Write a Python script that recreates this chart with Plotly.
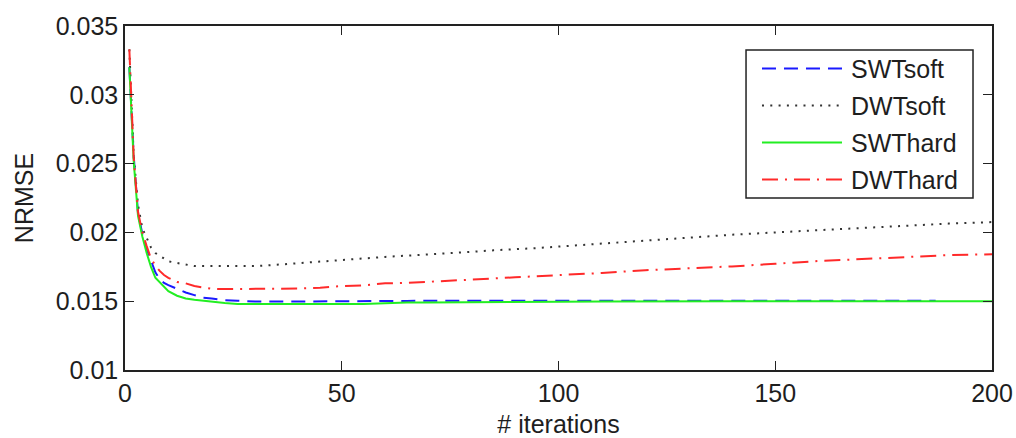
import plotly.graph_objects as go

# Iteration numbers at which the error curves were sampled
iterations = [1, 2, 3, 4, 5, 6, 7, 8, 9, 10, 12, 14, 16, 18, 20, 23, 26, 30, 35, 40,
              45, 50, 55, 60, 65, 70, 75, 80, 85, 90, 95, 100, 110, 120, 130, 140,
              150, 160, 170, 180, 187, 190, 200]

# NRMSE per method (SWTsoft stops at iteration 187)
swt_soft = [0.0320, 0.0256, 0.0214, 0.0199, 0.0188, 0.0179, 0.0171, 0.0166, 0.01633,
            0.01617, 0.01587, 0.01563, 0.01544, 0.01526, 0.0152, 0.01508, 0.01503,
            0.01497, 0.01497, 0.01497, 0.01497, 0.01497, 0.01498, 0.0150, 0.01502,
            0.01503, 0.01503, 0.01503, 0.01503, 0.01503, 0.01503, 0.01503, 0.01503,
            0.01503, 0.01503, 0.01503, 0.01503, 0.01503, 0.01503, 0.01503, 0.01503]
dwt_soft = [0.0333, 0.0256, 0.0220, 0.0203, 0.0196, 0.0189, 0.0185, 0.0183, 0.0181,
            0.0179, 0.01778, 0.01766, 0.01755, 0.01755, 0.01755, 0.01755, 0.01755,
            0.01755, 0.01765, 0.01777, 0.01787, 0.01801, 0.0181, 0.01822, 0.01831,
            0.01839, 0.01849, 0.01859, 0.0187, 0.01877, 0.01886, 0.01897, 0.01919,
            0.0194, 0.01962, 0.01983, 0.0200, 0.02017, 0.02033, 0.02047, 0.0206,
            0.02064, 0.02075]
swt_hard = [0.0320, 0.0252, 0.0212, 0.0197, 0.0185, 0.0175, 0.0167, 0.01637, 0.0160,
            0.01573, 0.0154, 0.0152, 0.0151, 0.01502, 0.01495, 0.01487, 0.0148,
            0.01479, 0.01479, 0.01479, 0.01479, 0.01479, 0.01479, 0.01485, 0.01491,
            0.01491, 0.01491, 0.01492, 0.01493, 0.01494, 0.01495, 0.01496, 0.01498,
            0.0150, 0.0150, 0.0150, 0.0150, 0.0150, 0.0150, 0.0150, 0.0150, 0.0150,
            0.0150]
dwt_hard = [0.0333, 0.0255, 0.0215, 0.0200, 0.0190, 0.0181, 0.0176, 0.0172, 0.0169,
            0.0167, 0.0164, 0.0163, 0.0161, 0.0160, 0.0159, 0.01588, 0.01588,
            0.01588, 0.0159, 0.01592, 0.01598, 0.0161, 0.01615, 0.0163, 0.01633,
            0.0164, 0.01647, 0.01657, 0.01665, 0.01674, 0.01681, 0.0169, 0.01705,
            0.01725, 0.01738, 0.01753, 0.01772, 0.01792, 0.01806, 0.0182, 0.0183,
            0.01835, 0.01841]

series_names = ["SWTsoft", "DWTsoft", "SWThard", "DWThard"]
series_values = [swt_soft, dwt_soft, swt_hard, dwt_hard]

y_tick_values = [0.01, 0.015, 0.02, 0.025, 0.03, 0.035]
y_tick_labels = ["0.01", "0.015", "0.02", "0.025", "0.03", "0.035"]
x_tick_values = [0, 50, 100, 150, 200]
x_tick_labels = ["0", "50", "100", "150", "200"]

# Line styles for each method
styles = {
    "SWTsoft": dict(color="#1a1aff", width=2, dash="14px,8px"),
    "DWTsoft": dict(color="#333333", width=2, dash="2px,6.3px"),
    "SWThard": dict(color="#22ee22", width=2, dash="solid"),
    "DWThard": dict(color="#ff2a2a", width=2, dash="16px,7px,2px,7px"),
}

FONT = "Liberation Sans, Arial, Helvetica, sans-serif"
TEXT = "#1e1e1e"
FS = 25

fig = go.Figure()
for name, vals in zip(series_names, series_values):
    fig.add_trace(go.Scatter(
        x=iterations[:len(vals)], y=vals, mode="lines", name=name,
        line=styles[name], showlegend=False,
    ))

# Boxed legend in the upper right, with long line samples
legend_x0, legend_x1 = 0.7163, 0.9781
legend_y0, legend_y1 = 0.50, 0.9302
fig.add_shape(type="rect", xref="paper", yref="paper",
              x0=legend_x0, x1=legend_x1, y0=legend_y0, y1=legend_y1,
              line=dict(color="#222222", width=1.5), fillcolor="white", layer="above")
row_h = (legend_y1 - legend_y0) / 4
for i, name in enumerate(series_names):
    yy = legend_y1 - row_h * (i + 0.5)
    st = styles[name]
    fig.add_shape(type="line", xref="paper", yref="paper",
                  x0=0.7347, x1=0.8270, y0=yy, y1=yy, layer="above",
                  line=dict(color=st["color"], width=st["width"], dash=st["dash"]))
    fig.add_annotation(xref="paper", yref="paper", x=0.8352, y=yy, text=name,
                       showarrow=False, xanchor="left", yanchor="middle",
                       font=dict(family=FONT, size=FS, color=TEXT))

axis_common = dict(
    showline=True, linecolor="#222222", linewidth=1.5, mirror="ticks",
    ticks="inside", ticklen=9, tickwidth=1.2, tickcolor="#222222",
    showgrid=False, zeroline=False, automargin=False,
    tickfont=dict(family=FONT, size=FS, color=TEXT),
)

fig.update_layout(
    width=1016, height=438,
    margin=dict(l=125, r=24, t=26, b=68),
    paper_bgcolor="white", plot_bgcolor="white",
    font=dict(family=FONT, size=FS, color=TEXT),
    xaxis=dict(range=[0, 200], tickvals=x_tick_values, ticktext=x_tick_labels,
               title=dict(text="# iterations", standoff=17,
                          font=dict(family=FONT, size=FS, color=TEXT)),
               **axis_common),
    yaxis=dict(range=[0.01, 0.035], tickvals=y_tick_values, ticktext=y_tick_labels,
               title=dict(text="NRMSE", standoff=15,
                          font=dict(family=FONT, size=FS, color=TEXT)),
               **axis_common),
)

fig.write_html("out.html")
